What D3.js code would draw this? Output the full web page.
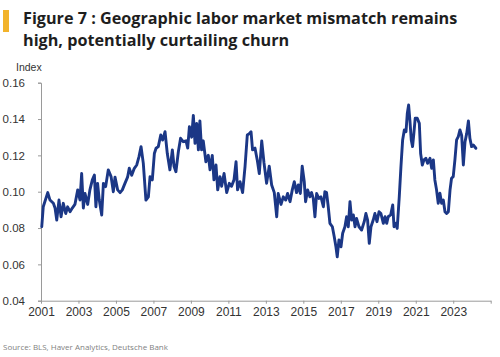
<!DOCTYPE html>
<html>
<head>
<meta charset="utf-8">
<script src="https://cdn.jsdelivr.net/npm/d3@7"></script>
<style>
html,body{margin:0;padding:0;background:#fff;}
svg{display:block;}
</style>
</head>
<body>
<svg id="chart" width="500" height="357"></svg>
<script>
const titleLines = ["Figure 7 : Geographic labor market mismatch remains", "high, potentially curtailing churn"];
const yAxisLabel = "Index";
const sourceText = "Source: BLS, Haver Analytics, Deutsche Bank";
const xTickYears = [2001, 2003, 2005, 2007, 2009, 2011, 2013, 2015, 2017, 2019, 2021, 2023, 2025];
const xTickLabels = ["2001","2003","2005","2007","2009","2011","2013","2015","2017","2019","2021","2023",""];
const yTicks = [0.04, 0.06, 0.08, 0.10, 0.12, 0.14, 0.16];

const years = [
2001.04,2001.12,2001.36,2001.48,2001.66,2001.75,2001.84,2001.96,2002.07,2002.19,2002.32,2002.42,2002.55,2002.67,2002.81,2002.96,
2003.08,2003.17,2003.26,2003.35,2003.49,2003.61,2003.74,2003.85,2003.93,2004.02,2004.11,2004.24,2004.33,2004.45,2004.59,2004.74,2004.86,2004.95,
2005.09,2005.22,2005.34,2005.48,2005.62,2005.71,2005.84,2005.98,2006.11,2006.23,2006.34,2006.46,2006.60,2006.73,2006.82,2006.94,2007.05,
2007.14,2007.26,2007.39,2007.49,2007.62,2007.74,2007.88,2008.01,2008.10,2008.20,2008.33,2008.45,2008.59,2008.74,2008.83,2008.92,
2009.04,2009.13,2009.22,2009.31,2009.40,2009.48,2009.57,2009.66,2009.80,2009.93,2010.02,2010.14,2010.23,2010.34,2010.43,2010.55,2010.64,2010.77,2010.91,
2011.05,2011.17,2011.30,2011.41,2011.49,2011.62,2011.76,2011.89,2012.01,2012.12,2012.21,2012.29,2012.42,2012.54,2012.65,2012.78,2012.90,2013.04,2013.18,
2013.31,2013.45,2013.58,2013.66,2013.81,2013.93,2014.06,2014.16,2014.29,2014.41,2014.52,2014.64,2014.73,2014.84,2014.94,
2015.05,2015.12,2015.23,2015.35,2015.44,2015.53,2015.62,2015.71,2015.83,2015.94,2016.07,2016.15,2016.24,2016.33,2016.42,2016.55,2016.65,2016.74,2016.81,2016.90,
2017.01,2017.10,2017.22,2017.31,2017.40,2017.49,2017.58,2017.67,2017.76,2017.84,2017.97,2018.11,2018.25,2018.34,2018.43,2018.52,2018.61,2018.73,2018.82,2018.93,
2019.04,2019.14,2019.27,2019.36,2019.45,2019.53,2019.66,2019.77,2019.84,2019.94,2020.01,2020.12,2020.21,2020.30,2020.39,2020.48,2020.55,2020.62,2020.69,2020.76,2020.83,2020.90,2020.97,
2021.08,2021.19,2021.26,2021.35,2021.44,2021.54,2021.63,2021.76,2021.85,2021.94,2022.02,2022.11,2022.20,2022.29,2022.38,2022.47,2022.56,2022.65,2022.74,2022.83,2022.91,
2023.00,2023.09,2023.18,2023.27,2023.36,2023.45,2023.54,2023.63,2023.72,2023.81,2023.89,2023.98,2024.07,2024.21
];
const values = [
0.0807,0.0917,0.0995,0.0954,0.0936,0.0910,0.0844,0.0954,0.0862,0.0936,0.0880,0.0917,0.0890,0.0910,0.0930,0.1010,
0.0954,0.1100,0.0910,0.0990,0.0930,0.1010,0.1065,0.1092,0.0917,0.1046,0.0954,0.0872,0.1046,0.1028,0.1120,0.1083,0.1000,0.1080,
0.1010,0.0995,0.1010,0.1046,0.1080,0.1129,0.1090,0.1129,0.1147,0.1193,0.1248,0.1156,0.0954,0.0972,0.1083,0.1065,0.1210,
0.1239,0.1248,0.1312,0.1284,0.1330,0.1210,0.1120,0.1230,0.1140,0.1110,0.1220,0.1294,0.1275,0.1280,0.1240,0.1358,
0.1300,0.1420,0.1266,0.1376,0.1230,0.1390,0.1230,0.1280,0.1165,0.1200,0.1120,0.1200,0.1065,0.1147,0.1010,0.1083,0.1030,0.1100,0.0995,
0.1046,0.1030,0.1065,0.1165,0.1010,0.1055,0.0995,0.1140,0.1312,0.1320,0.1330,0.1230,0.1240,0.1175,0.1100,0.1280,0.1160,0.1046,0.1140,
0.1037,0.0995,0.0862,0.0990,0.0930,0.0972,0.0954,0.0990,0.0945,0.1010,0.1055,0.0995,0.1037,0.0990,0.1140,
0.1055,0.0945,0.1010,0.0972,0.0995,0.0963,0.0862,0.0990,0.0963,0.0972,0.0917,0.1000,0.0995,0.0917,0.0826,0.0807,0.0752,0.0697,0.0642,0.0734,
0.0697,0.0771,0.0807,0.0862,0.0807,0.0945,0.0844,0.0872,0.0807,0.0853,0.0807,0.0789,0.0835,0.0880,0.0844,0.0716,0.0807,0.0844,0.0880,0.0835,
0.0890,0.0880,0.0826,0.0862,0.0826,0.0862,0.0872,0.0927,0.0807,0.0826,0.0798,0.0972,0.1138,0.1285,0.1340,0.1330,0.1432,0.1477,0.1390,0.1285,0.1248,0.1321,0.1404,
0.1404,0.1376,0.1210,0.1147,0.1175,0.1184,0.1156,0.1184,0.1129,0.1175,0.1065,0.1010,0.0936,0.0992,0.0936,0.0954,0.0890,0.0880,0.0890,0.1010,0.1074,
0.1083,0.1175,0.1285,0.1303,0.1340,0.1310,0.1147,0.1275,0.1321,0.1390,0.1294,0.1248,0.1257,0.1239
];

const svg = d3.select("#chart");
const data = years.map((y, i) => ({ x: y, y: values[i] }));

const x = d3.scaleLinear().domain([2001, 2025]).range([41, 490.7]);
const y = d3.scaleLinear().domain([0.04, 0.16]).range([300.7, 82.7]);

// accent bar
svg.append("rect").attr("x", 3).attr("y", 10).attr("width", 6).attr("height", 22).attr("fill", "#F2B32B");

// title
const title = svg.append("text")
  .attr("font-family", "'Open Sans', sans-serif")
  .attr("font-weight", 700)
  .attr("font-size", 16.2)
  .attr("fill", "#1e1e1e");
titleLines.forEach((t, i) => {
  title.append("tspan").attr("x", 23).attr("y", 23.5 + i * 22.5).text(t);
});

// y axis
const yAxis = d3.axisLeft(y).tickValues(yTicks).tickFormat(d3.format(".2f")).tickSize(3).tickPadding(13);
const gy = svg.append("g").attr("transform", "translate(41,0)").call(yAxis);
gy.select(".domain").attr("stroke", "#9a9a9a");
gy.selectAll(".tick line").attr("stroke", "#9a9a9a");
gy.selectAll(".tick text").attr("font-family", "'Liberation Sans', Arial, sans-serif").attr("font-size", 11.5).attr("fill", "#333");

// x axis
const xAxis = d3.axisBottom(x).tickValues(xTickYears).tickFormat((d, i) => xTickLabels[i]).tickSize(3).tickPadding(4).tickSizeOuter(0);
const gx = svg.append("g").attr("transform", "translate(0,300.7)").call(xAxis);
gx.select(".domain").attr("stroke", "#9a9a9a");
gx.selectAll(".tick line").attr("stroke", "#9a9a9a");
gx.selectAll(".tick text").attr("font-family", "'Liberation Sans', Arial, sans-serif").attr("font-size", 12).attr("fill", "#333");

// y label
svg.append("text").attr("x", 16).attr("y", 71)
  .attr("font-family", "'Liberation Sans', Arial, sans-serif").attr("font-size", 10.5).attr("fill", "#333")
  .text(yAxisLabel);

// line
const line = d3.line().x(d => x(d.x)).y(d => y(d.y)).curve(d3.curveLinear);
svg.append("path").datum(data)
  .attr("d", line)
  .attr("fill", "none")
  .attr("stroke", "#1b3786")
  .attr("stroke-width", 2.9)
  .attr("stroke-linejoin", "round")
  .attr("stroke-linecap", "round");

// source
svg.append("text").attr("x", 3).attr("y", 350)
  .attr("font-family", "'Open Sans', sans-serif").attr("font-size", 8).attr("fill", "#7f7f7f")
  .text(sourceText);
</script>
</body>
</html>
